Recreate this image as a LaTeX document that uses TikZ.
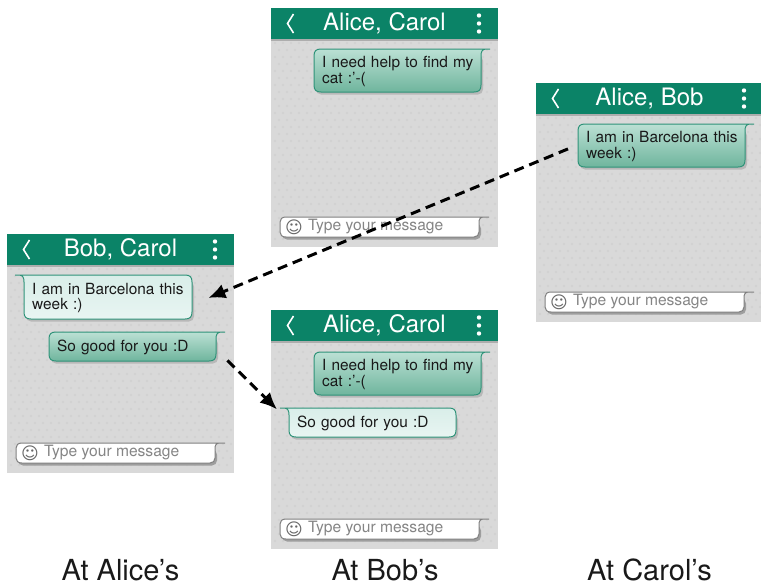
\documentclass[tikz,border=0pt]{standalone}
\usepackage{fontspec}
\setmainfont{TeX Gyre Heros}
\newfontfamily\symfont{DejaVu Sans}
\usetikzlibrary{arrows.meta,calc}
\definecolor{hdr}{HTML}{0B8367}
\definecolor{bgrey}{HTML}{D9D9D9}
\definecolor{bdot}{HTML}{D2D2D2}
\definecolor{edge}{HTML}{2F9379}
\definecolor{outtop}{HTML}{BBE0D4}
\definecolor{outbot}{HTML}{6FB59D}
\definecolor{intop}{HTML}{D9EEE9}
\definecolor{inbot}{HTML}{E8F5F2}
\tikzset{
  bubtext/.style={inner xsep=8pt,inner ysep=0pt,yshift=-0.7pt,align=left,font=\fontsize{15.4}{15.6}\selectfont,text=black!90},
  shade out/.style={top color=outtop,bottom color=outbot,draw=edge,line width=1pt},
  shade in/.style={top color=intop,bottom color=inbot,draw=edge,line width=1pt},
  fieldbox/.style={fill=white,draw=black!50,line width=1pt},
  bubshadow/.style={fill=black!28,draw=none,rounded corners=5pt},
  hdrtext/.style={font=\fontsize{24}{26}\selectfont,text=white},
  capt/.style={font=\fontsize{29}{30}\selectfont,text=black!90,inner sep=0pt},
  link/.style={line width=3pt,dash pattern=on 10pt off 6pt,-{Latex[length=17pt,width=15pt]}},
}
\newcommand{\rbub}[4]{(#2+9,#3) -- (#2+5,#3) .. controls (#2+1,#3) and (#2,#3+3) .. (#2,#3+7) -- (#2,#4-7) .. controls (#2,#4-2) and (#2-2,#4) .. (#2-7,#4) -- (#1+7,#4) .. controls (#1+2,#4) and (#1,#4-2) .. (#1,#4-7) -- (#1,#3+7) .. controls (#1,#3+2) and (#1+2,#3) .. (#1+7,#3) -- (#2+5,#3)}
\newcommand{\lbub}[4]{(#1-9,#3) -- (#1-5,#3) .. controls (#1-1,#3) and (#1,#3+3) .. (#1,#3+7) -- (#1,#4-7) .. controls (#1,#4-2) and (#1+2,#4) .. (#1+7,#4) -- (#2-7,#4) .. controls (#2-2,#4) and (#2,#4-2) .. (#2,#4-7) -- (#2,#3+7) .. controls (#2,#3+2) and (#2-2,#3) .. (#2-7,#3) -- (#1-5,#3)}
\newcommand{\outmsg}[6]{%
  \fill[bubshadow,shift={(2,2.5)}] (#2,#3+4) rectangle (#4,#5);
  \path[shade out] \rbub{#2}{#4}{#3}{#5};
  \pgfmathsetmacro{\bw}{#4-#2}\pgfmathsetmacro{\bh}{#5-#3}\pgfmathsetmacro{\tw}{#4-#2-14}
  \node[bubtext,anchor=north west,minimum width=\bw pt,minimum height=\bh pt,text width=\tw pt] (#1) at (#2,#3) {#6};}
\newcommand{\inmsg}[6]{%
  \fill[bubshadow,shift={(2,2.5)}] (#2,#3+4) rectangle (#4,#5);
  \path[shade in] \lbub{#2}{#4}{#3}{#5};
  \pgfmathsetmacro{\bw}{#4-#2}\pgfmathsetmacro{\bh}{#5-#3}\pgfmathsetmacro{\tw}{#4-#2-14}
  \node[bubtext,anchor=north west,minimum width=\bw pt,minimum height=\bh pt,text width=\tw pt] (#1) at (#2,#3) {#6};}
\newcommand{\phone}[5]{%
\begin{scope}[shift={(#2,#3)}]
  \fill[bgrey] (0,0) rectangle (#4,239);
  \foreach \i in {0,...,27}{\foreach \j in {0,...,29}{
     \pgfmathsetmacro{\dx}{4+8*\i+4*mod(\j,2)}
     \pgfmathsetmacro{\dy}{35+7*\j}
     \ifdim\dx pt<#4pt \ifdim\dy pt<238pt \fill[bdot] (\dx,\dy) circle (1.3); \fi\fi}}
  \fill[black!32] (0,31) rectangle (#4,33);
  \fill[hdr] (0,0) rectangle (#4,31);
  \node[hdrtext] (#1title) at (113.5,15.5) {#5};
  \draw[white,line width=1.6pt] (22.5,6) -- (16.5,15.5) -- (22.5,25);
  \fill[white] (208,7.5) circle (2.2) (208,15.5) circle (2.2) (208,23.5) circle (2.2);
  \fill[black!38,shift={(2,2.5)},rounded corners=5pt] (9,213) rectangle (208,229);
  \path[fieldbox] (218,209) -- (213,209) .. controls (209,209) and (208,211) .. (208,215) -- (208,224) .. controls (208,227) and (206,229) .. (203,229) -- (15,229) .. controls (11,229) and (9,227) .. (9,224) -- (9,214) .. controls (9,211) and (11,209) .. (15,209) -- (213,209);
  \node[anchor=center,font=\symfont\fontsize{17}{17}\selectfont,text=black!60,inner sep=0pt] (#1smile) at (23,219) {☺};
  \node[anchor=west,font=\fontsize{15.6}{16}\selectfont,text=black!48,inner sep=0pt] (#1field) at (37,218.5) {Type your message};
\end{scope}}
\begin{document}
\begin{tikzpicture}[x=1pt,y=-1pt]
\useasboundingbox (0,0) rectangle (761,584);
\phone{bobtop}{271}{8}{227}{Alice, Carol}
\phone{carol}{536}{83}{225}{Alice, Bob}
\phone{alice}{7}{234}{227}{Bob, Carol}
\phone{bobbot}{271}{310}{227}{Alice, Carol}
\outmsg{bobA}{314}{49}{481}{92}{I need help to find my\\cat :’-(}
\outmsg{carolA}{578}{124}{745}{167}{I am in Barcelona this\\week :)}
\inmsg{aliceA}{24}{275}{192}{319}{I am in Barcelona this\\week :)}
\outmsg{aliceB}{49}{332}{216}{361}{So good for you :D}
\outmsg{bobB}{314}{352}{481}{395}{I need help to find my\\cat :’-(}
\inmsg{bobC}{289}{408}{456}{437}{So good for you :D}
\draw[link] ($(carolA.west)+(-10,2.5)$) -- ($(aliceA.east)+(14,0)$);
\draw[link] ($(aliceB.east)+(9,13)$) -- ($(bobC.west)+(-12,-14)$);
\node[capt] (capA) at (120.5,570) {At Alice’s};
\node[capt] (capB) at (385,570) {At Bob’s};
\node[capt] (capC) at (649.5,570) {At Carol’s};
\end{tikzpicture}
\end{document}
